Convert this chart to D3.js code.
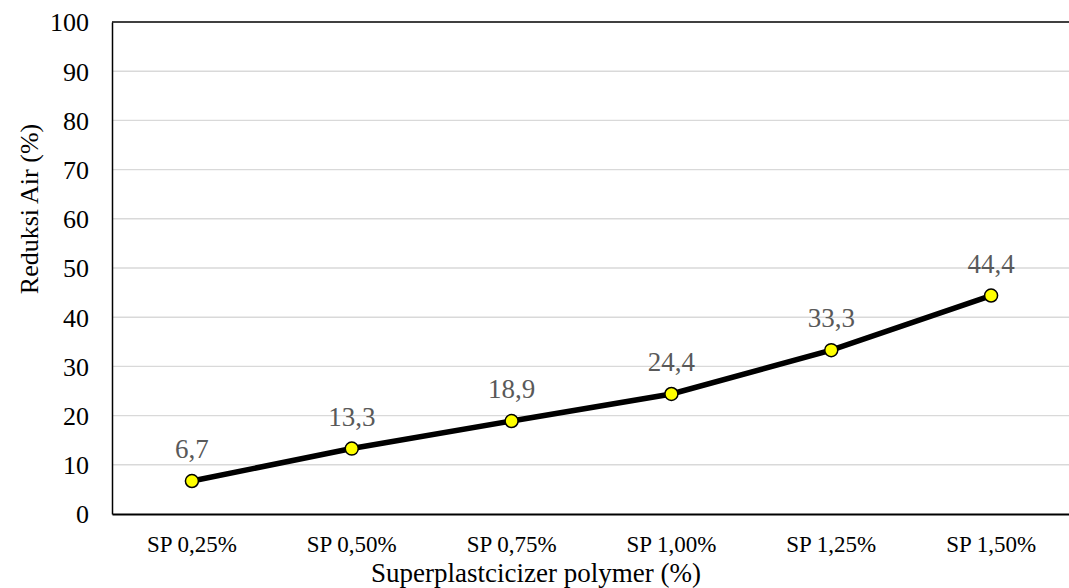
<!DOCTYPE html>
<html><head><meta charset="utf-8">
<script src="https://cdn.jsdelivr.net/npm/d3@7"></script>
<style>body{margin:0;background:#fff}svg{display:block}</style>
</head><body>
<script>
const categories = ["SP 0,25%","SP 0,50%","SP 0,75%","SP 1,00%","SP 1,25%","SP 1,50%"];
const values = [6.7,13.3,18.9,24.4,33.3,44.4];
const labels = ["6,7","13,3","18,9","24,4","33,3","44,4"];
const yTicks = [0,10,20,30,40,50,60,70,80,90,100];

const W=1069,H=588, mLeft=112, mRight=1071, mTop=22, mBottom=514;
const FONT="'Liberation Serif','Times New Roman',serif";
const svg=d3.select("body").append("svg").attr("width",W).attr("height",H)
  .style("font-family",FONT);
const x=d3.scaleBand().domain(categories).range([mLeft,mRight]);
const y=d3.scaleLinear().domain([0,100]).range([mBottom,mTop]);

svg.append("g").selectAll("line").data(yTicks.filter(d=>d>0&&d<100)).join("line")
  .attr("x1",mLeft).attr("x2",W).attr("y1",d=>y(d)).attr("y2",d=>y(d))
  .attr("stroke","#d9d9d9").attr("stroke-width",1.4);

const ya=svg.append("g").attr("transform",`translate(${mLeft},0)`)
  .call(d3.axisLeft(y).tickValues(yTicks).tickSize(0).tickPadding(23));
ya.select(".domain").attr("stroke","#000").attr("stroke-width",1.5);
ya.selectAll("text").attr("font-size",26).attr("fill","#000").attr("font-family",FONT).attr("dy","0.34em");

svg.append("line").attr("x1",mLeft).attr("x2",W).attr("y1",mTop).attr("y2",mTop).attr("stroke","#000").attr("stroke-width",1.4);

const xa=svg.append("g").attr("transform",`translate(0,${mBottom})`)
  .call(d3.axisBottom(x).tickSize(0).tickPadding(22));
xa.select(".domain").attr("stroke","#000").attr("stroke-width",2.2);
xa.selectAll("text").attr("font-size",23).attr("fill","#000").attr("font-family",FONT);

const line=d3.line().x((d,i)=>x(categories[i])+x.bandwidth()/2).y(d=>y(d));
svg.append("path").datum(values).attr("d",line).attr("fill","none").attr("stroke","#000").attr("stroke-width",5.5);

svg.append("g").selectAll("circle").data(values).join("circle")
  .attr("cx",(d,i)=>x(categories[i])+x.bandwidth()/2).attr("cy",d=>y(d)).attr("r",6.5)
  .attr("fill","#ffff00").attr("stroke","#000").attr("stroke-width",1.5);

svg.append("g").selectAll("text").data(values).join("text")
  .attr("x",(d,i)=>x(categories[i])+x.bandwidth()/2).attr("y",d=>y(d)-23)
  .attr("text-anchor","middle").attr("font-size",27).attr("fill","#595959")
  .text((d,i)=>labels[i]);

svg.append("text").attr("x",536).attr("y",582).attr("text-anchor","middle")
  .attr("font-size",27).text("Superplastcicizer polymer (%)");
svg.append("text").attr("transform",`translate(38,209) rotate(-90)`).attr("text-anchor","middle")
  .attr("font-size",26).text("Reduksi Air (%)");
</script>
</body></html>
